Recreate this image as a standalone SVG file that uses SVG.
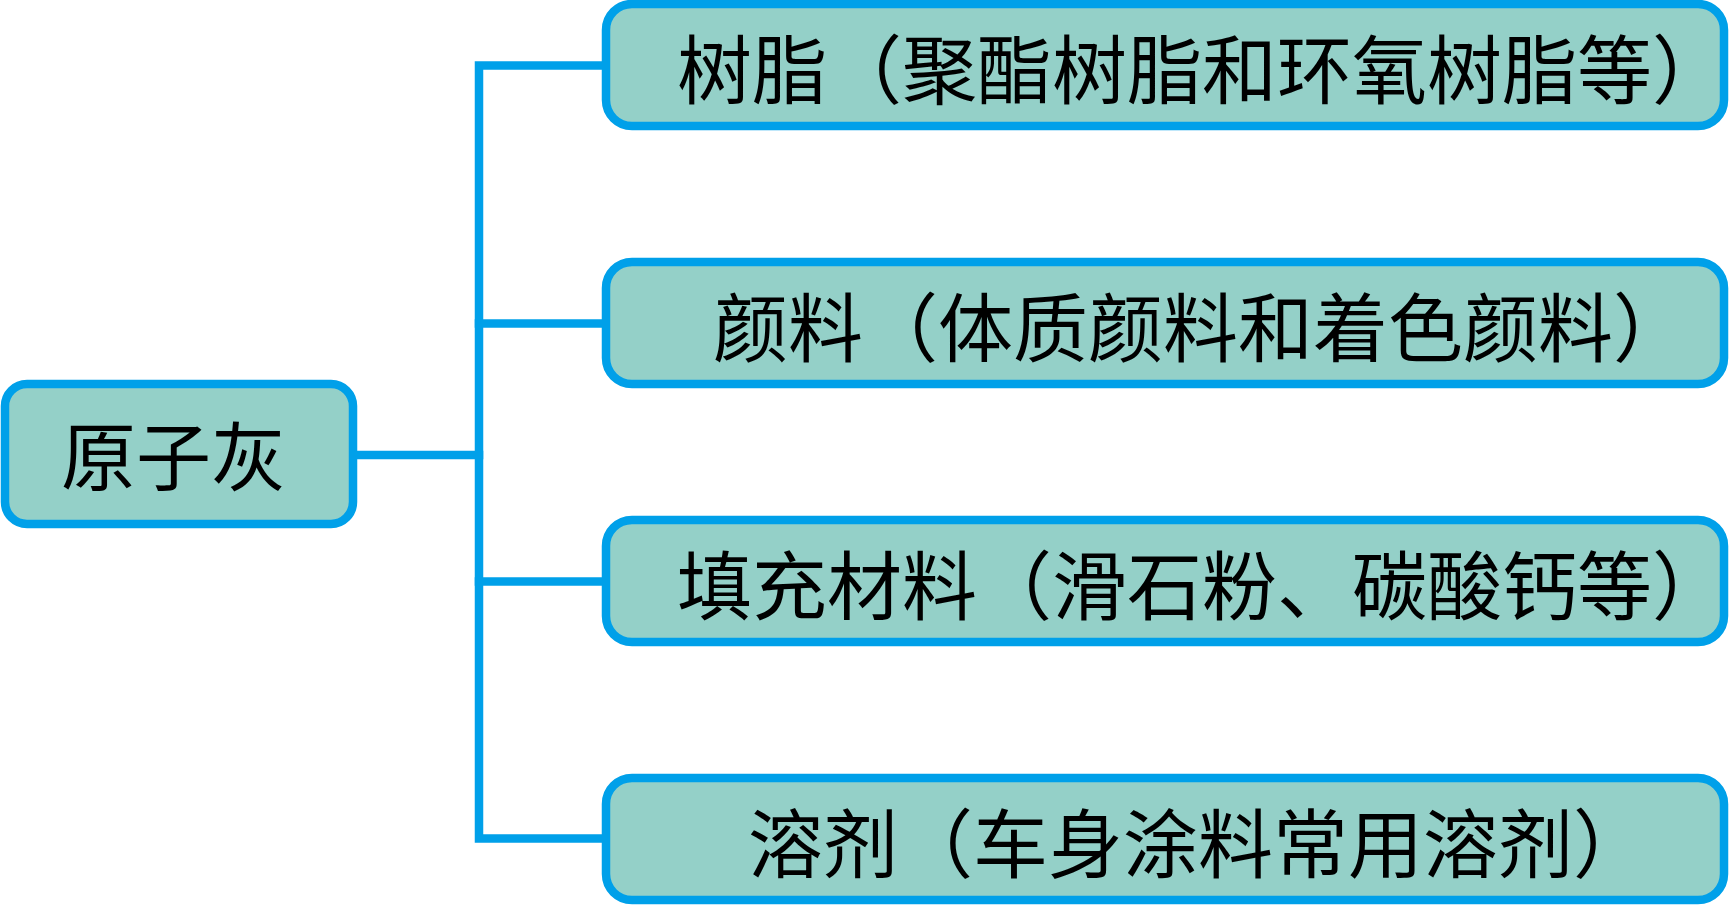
<svg xmlns="http://www.w3.org/2000/svg" width="1730" height="905" viewBox="0 0 1730 905">
<style>
.box{fill:#94D0C8;stroke:#00A0E9;stroke-width:8.5}
.lbl{font-family:"Noto Sans CJK SC","Noto Sans CJK TC",sans-serif;font-size:75px;fill:#000}
.conn{fill:none;stroke:#00A0E9;stroke-width:8.5;stroke-linecap:square}
</style>
<rect width="1730" height="905" fill="#fff"/>
<g id="connectors">
<line class="conn" x1="357" y1="455" x2="479" y2="455"/>
<polyline class="conn" points="606,65.5 479,65.5 479,838.5 606,838.5"/>
<line class="conn" x1="479" y1="323.5" x2="606" y2="323.5"/>
<line class="conn" x1="479" y1="581.5" x2="606" y2="581.5"/>
</g>
<g id="node-root">
<rect class="box" x="5" y="384" width="348" height="140" rx="22"/>
<text class="lbl" x="61" y="485">原子灰</text>
</g>
<g id="node-resin">
<rect class="box" x="606" y="4" width="1118" height="122" rx="26"/>
<text class="lbl" x="677" y="98">树脂（聚酯树脂和环氧树脂等）</text>
</g>
<g id="node-pigment">
<rect class="box" x="606" y="262" width="1118" height="122" rx="26"/>
<text class="lbl" x="713" y="356">颜料（体质颜料和着色颜料）</text>
</g>
<g id="node-filler">
<rect class="box" x="606" y="520" width="1118" height="122" rx="26"/>
<text class="lbl" x="677" y="614">填充材料（滑石粉、碳酸钙等）</text>
</g>
<g id="node-solvent">
<rect class="box" x="606" y="778" width="1118" height="122" rx="26"/>
<text class="lbl" x="748" y="872">溶剂（车身涂料常用溶剂）</text>
</g>
</svg>
